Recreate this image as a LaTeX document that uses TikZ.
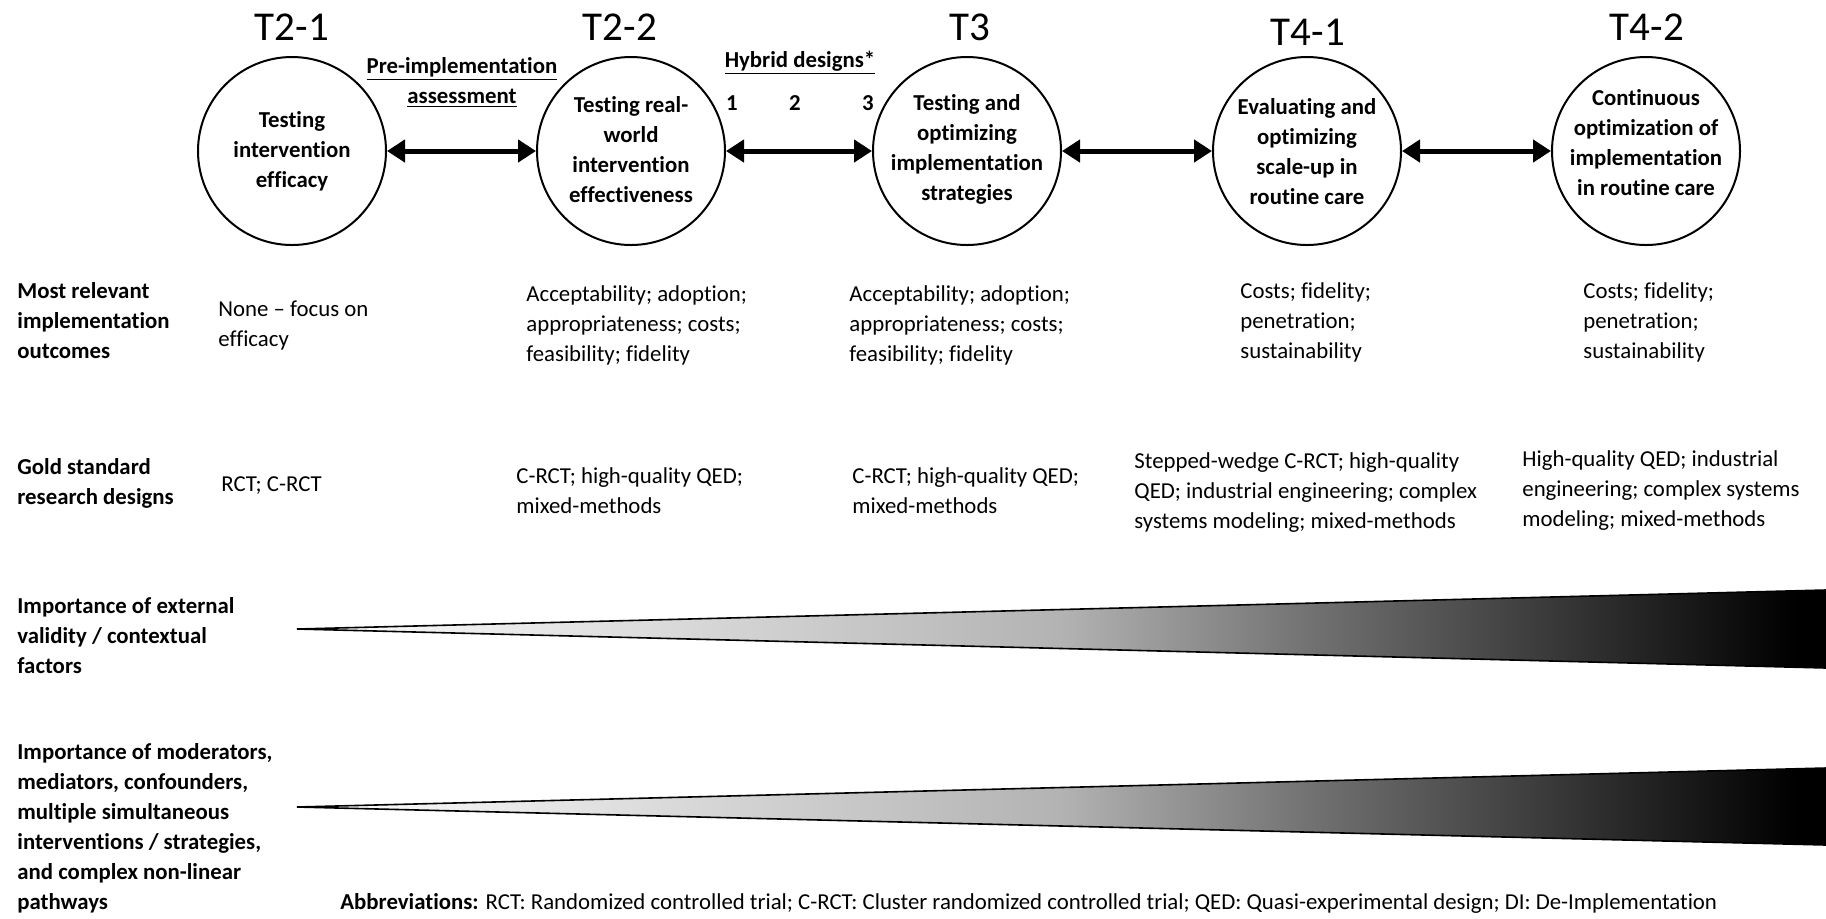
\documentclass[tikz,border=0pt]{standalone}
\usepackage{fontspec}
\setmainfont{Carlito}[Ligatures={TeX,NoCommon}]
\usetikzlibrary{arrows.meta}
\newcommand{\bodyfont}{\fontsize{11.4pt}{15pt}\selectfont}
\newcommand{\stagetitlefont}{\fontsize{20.5pt}{24pt}\selectfont}
\pgfdeclarehorizontalshading{wedgeshade}{100bp}{color(0bp)=(white); color(25bp)=(white); color(50bp)=(black!30); color(58bp)=(black!55); color(74bp)=(black); color(100bp)=(black)}
\tikzset{
  stage/.style={circle, draw, line width=1pt, minimum size=94pt, inner sep=0pt},
  stagetext/.style={align=center, font=\bfseries\bodyfont, inner sep=0pt},
  stagetitle/.style={font=\stagetitlefont, inner sep=0pt},
  dblarrow/.style={{Triangle[length=9pt,width=11pt]}-{Triangle[length=9pt,width=11pt]}, line width=2.5pt},
  celltext/.style={anchor=north west, align=left, font=\bodyfont, inner sep=0pt},
  rowlabel/.style={celltext, font=\bfseries\bodyfont},
  wedge/.style={shading=wedgeshade, draw=black, line width=0.8pt}
}
\begin{document}
\begin{tikzpicture}[x=0.5pt,y=-0.5pt]
\useasboundingbox (0,0) rectangle (1826,918);
% increasing importance wedges
\shade[wedge] (297,629) -- (1826,590) -- (1826,668) -- cycle;
\shade[wedge] (297,807) -- (1826,768) -- (1826,845) -- cycle;
% translational stages
\foreach \i/\x in {1/292, 2/631, 3/967, 4/1307, 5/1646}
	\node[stage] (c\i) at (\x,151) {};
\node[stagetext] (s1) at (292,151) {Testing\\intervention\\efficacy};
\node[stagetext] (s2) at (631,150) {Testing real-\\world\\intervention\\effectiveness};
\node[stagetext] (s3) at (967,149) {Testing and\\optimizing\\implementation\\strategies};
\node[stagetext] (s4) at (1307,152) {Evaluating and\\optimizing\\scale-up in\\routine care};
\node[stagetext] (s5) at (1646,143) {Continuous\\optimization of\\implementation\\in routine care};
\foreach \i/\x/\y/\name in {1/292/27/T2-1, 2/620/27/T2-2, 3/970/27/T3, 4/1308/32/T4-1, 5/1647/27/T4-2}
	\node[stagetitle] (t\i) at (\x,\y) {\name};
\foreach \a/\b in {1/2, 2/3, 3/4, 4/5}
	\draw[dblarrow] (c\a) -- (c\b);
\node[stagetext, anchor=north] (pre) at (462,57) {\underline{Pre-implementation}\\\underline{assessment}};
\node[stagetext, anchor=base] (hyb) at (800,67) {\underline{Hybrid designs*}};
\foreach \n/\x in {1/732, 2/795, 3/868}
	\node[stagetext, anchor=base] (h\n) at (\x,110) {\n};
% row labels
\node[rowlabel] (lab1) at (17,282) {Most relevant\\implementation\\outcomes};
\node[rowlabel] (lab2) at (17,458) {Gold standard\\research designs};
\node[rowlabel] (lab3) at (17,597) {Importance of external\\validity / contextual\\factors};
\node[rowlabel] (lab4) at (17,743) {Importance of moderators,\\mediators, confounders,\\multiple simultaneous\\interventions / strategies,\\and complex non-linear\\pathways};
% implementation outcomes
\node[celltext] (out1) at (218,300) {None -- focus on\\efficacy};
\node[celltext] (out2) at (526,285) {Acceptability; adoption;\\appropriateness; costs;\\feasibility; fidelity};
\node[celltext] (out3) at (849,285) {Acceptability; adoption;\\appropriateness; costs;\\feasibility; fidelity};
\node[celltext] (out4) at (1240,282) {Costs; fidelity;\\penetration;\\sustainability};
\node[celltext] (out5) at (1583,282) {Costs; fidelity;\\penetration;\\sustainability};
% research designs
\node[celltext] (des1) at (221,476) {RCT; C-RCT};
\node[celltext] (des2) at (516,467) {C-RCT; high-quality QED;\\mixed-methods};
\node[celltext] (des3) at (852,467) {C-RCT; high-quality QED;\\mixed-methods};
\node[celltext] (des4) at (1134,452) {Stepped-wedge C-RCT; high-quality\\QED; industrial engineering; complex\\systems modeling; mixed-methods};
\node[celltext] (des5) at (1522,450) {High-quality QED; industrial\\engineering; complex systems\\modeling; mixed-methods};
\node[celltext, anchor=west] (abbr) at (340,903) {\textbf{Abbreviations:} RCT: Randomized controlled trial; C-RCT: Cluster randomized controlled trial; QED: Quasi-experimental design; DI: De-Implementation};
\end{tikzpicture}
\end{document}
